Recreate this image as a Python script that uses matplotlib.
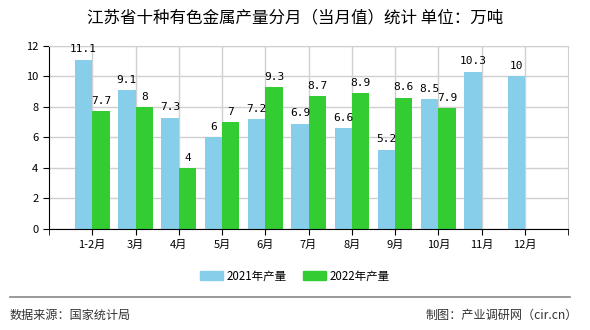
import numpy as np
import matplotlib
matplotlib.use("Agg")
import matplotlib.pyplot as plt
from matplotlib.patches import Patch

plt.rcParams['font.family'] = ['Noto Sans CJK SC', 'DejaVu Sans']

categories = ['1-2月', '3月', '4月', '5月', '6月', '7月', '8月', '9月', '10月', '11月', '12月']
values_2021 = [11.1, 9.1, 7.3, 6, 7.2, 6.9, 6.6, 5.2, 8.5, 10.3, 10]
values_2022 = [7.7, 8, 4, 7, 9.3, 8.7, 8.9, 8.6, 7.9, np.nan, np.nan]
series_names = ['2021年产量', '2022年产量']
colors = ['#87CEEB', '#33CC33']

fig = plt.figure(figsize=(5.9, 3.3), dpi=100)
ax = fig.add_axes([0.083, 0.306, 0.88, 0.555])

x = np.arange(len(categories))
w = 0.4
ax.bar(x - w / 2, values_2021, width=w, color=colors[0], zorder=2)
ax.bar(x + w / 2, values_2022, width=w, color=colors[1], zorder=2)

def fmt(v):
    return ('%g' % v)

for xi, v in zip(x, values_2021):
    if not np.isnan(v):
        ax.text(xi - w / 2, v + 0.35, fmt(v), ha='center', va='bottom', fontsize=8,
                family=['DejaVu Sans Mono'], zorder=3)
for xi, v in zip(x, values_2022):
    if not np.isnan(v):
        ax.text(xi + w / 2, v + 0.35, fmt(v), ha='center', va='bottom', fontsize=8,
                family=['DejaVu Sans Mono'], zorder=3)

ax.set_xlim(-1, len(categories))
ax.set_ylim(0, 12)
ax.set_yticks(np.arange(0, 13, 2))
ax.set_xticks(x)
ax.set_xticklabels(categories, fontsize=8)
ax.set_xticks([-1, len(categories)], minor=True)
ax.tick_params(axis='x', which='both', length=4, color='black')
ax.tick_params(axis='y', length=4, labelsize=8)
ax.grid(True, color='#d0d0d0', linewidth=1, zorder=0)
ax.set_axisbelow(True)
for s in ['top', 'right']:
    ax.spines[s].set_color('#d0d0d0')
for s in ['left', 'bottom']:
    ax.spines[s].set_color('black')

fig.text(0.5, 0.945, '江苏省十种有色金属产量分月（当月值）统计 单位：万吨', ha='center', va='center',
         fontsize=11.9)

handles = [Patch(color=colors[0]), Patch(color=colors[1])]
fig.legend(handles, series_names, loc='center', bbox_to_anchor=(0.5, 0.163), ncol=2,
           frameon=False, fontsize=8.3, handlelength=1.95, handleheight=0.8, columnspacing=1.4,
           handletextpad=0.35)

fig.add_artist(plt.Line2D([0.017, 0.966], [0.1, 0.1], color='#888888', linewidth=1.2))
fig.text(0.017, 0.045, '数据来源：国家统计局', ha='left', va='center', fontsize=8.7, color='#333333')
fig.text(0.98, 0.045, '制图：产业调研网（cir.cn）', ha='right', va='center', fontsize=8.7, color='#333333')

fig.savefig('out.png', dpi=100)
